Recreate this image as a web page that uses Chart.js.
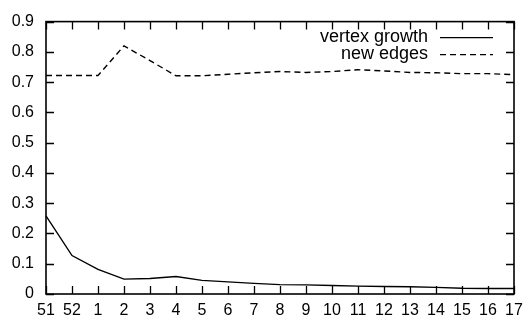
<!DOCTYPE html>
<html>
<head>
<meta charset="utf-8">
<script src="https://cdn.jsdelivr.net/npm/chart.js@4/dist/chart.umd.min.js"></script>
<style>
  html, body { margin: 0; padding: 0; background: #fff; }
  #wrap { width: 525px; height: 322px; }
</style>
</head>
<body>
<div id="wrap"><canvas id="c" width="525" height="322"></canvas></div>
<script>
// Week numbers along the x axis
const weeks = ['51', '52', '1', '2', '3', '4', '5', '6', '7', '8', '9', '10', '11', '12', '13', '14', '15', '16', '17'];

// Share of growth per week
const vertexGrowth = [0.258, 0.127, 0.081, 0.049, 0.051, 0.058, 0.045, 0.040, 0.035, 0.031, 0.030, 0.028, 0.026, 0.025, 0.024, 0.022, 0.019, 0.018, 0.018];
const newEdges = [0.722, 0.722, 0.722, 0.820, 0.771, 0.721, 0.721, 0.726, 0.731, 0.735, 0.732, 0.735, 0.741, 0.737, 0.732, 0.731, 0.728, 0.728, 0.725];

// Y axis tick values
const yTicks = [0, 0.1, 0.2, 0.3, 0.4, 0.5, 0.6, 0.7, 0.8, 0.9];

const FONT = 'Liberation Sans, Arial, Helvetica, sans-serif';

// Frame with inward tick marks on all four sides, plus every week label under its tick
const framePlugin = {
  id: 'frame',
  afterDatasetsDraw(chart) {
    const { ctx, chartArea: a, scales } = chart;
    const len = 8;
    ctx.save();
    ctx.strokeStyle = '#000';
    ctx.lineWidth = 1.3;
    ctx.beginPath();
    yTicks.forEach(v => {
      const y = Math.round(scales.y.getPixelForValue(v)) + 0.5;
      ctx.moveTo(a.left, y); ctx.lineTo(a.left + len, y);
      ctx.moveTo(a.right, y); ctx.lineTo(a.right - len, y);
    });
    weeks.forEach((w, i) => {
      const x = Math.round(scales.x.getPixelForValue(i)) + 0.5;
      ctx.moveTo(x, a.bottom); ctx.lineTo(x, a.bottom - len);
      ctx.moveTo(x, a.top); ctx.lineTo(x, a.top + len);
    });
    ctx.stroke();
    ctx.lineWidth = 1.6;
    ctx.strokeRect(a.left, a.top, a.right - a.left, a.bottom - a.top);

    ctx.font = '16px ' + FONT;
    ctx.fillStyle = '#000';
    ctx.textAlign = 'center';
    ctx.textBaseline = 'middle';
    weeks.forEach((w, i) => {
      ctx.fillText(w, scales.x.getPixelForValue(i), a.bottom + 17);
    });
    ctx.restore();
  }
};

// Key in the upper right corner, text right-aligned before the line sample
const keyPlugin = {
  id: 'key',
  afterDatasetsDraw(chart) {
    const { ctx, chartArea: a } = chart;
    const textRight = a.right - 86;
    const sx0 = a.right - 74, sx1 = a.right - 21;
    ctx.save();
    ctx.font = '18px ' + FONT;
    ctx.textAlign = 'right';
    ctx.textBaseline = 'middle';
    ctx.fillStyle = '#000';
    chart.data.datasets.forEach((ds, i) => {
      const y = a.top + 15 + i * 17;
      ctx.fillText(ds.label, textRight, y);
      ctx.beginPath();
      ctx.strokeStyle = '#000';
      ctx.lineWidth = ds.borderWidth;
      ctx.setLineDash(ds.borderDash || []);
      ctx.moveTo(sx0, y + 1);
      ctx.lineTo(sx1, y + 1);
      ctx.stroke();
    });
    ctx.restore();
  }
};

new Chart(document.getElementById('c'), {
  type: 'line',
  data: {
    labels: weeks,
    datasets: [
      {
        label: 'vertex growth',
        data: vertexGrowth,
        borderColor: '#000',
        borderWidth: 1.4,
        pointRadius: 0,
        tension: 0,
        fill: false
      },
      {
        label: 'new edges',
        data: newEdges,
        borderColor: '#000',
        borderWidth: 1.4,
        borderDash: [6, 4],
        pointRadius: 0,
        tension: 0,
        fill: false
      }
    ]
  },
  options: {
    responsive: false,
    animation: false,
    devicePixelRatio: 1,
    layout: { padding: { top: 19, right: 11, left: 0, bottom: 0 } },
    plugins: { legend: { display: false }, tooltip: { enabled: false } },
    scales: {
      x: {
        type: 'category',
        offset: false,
        grid: { display: false, drawTicks: false },
        border: { display: false },
        ticks: { display: false },
        afterFit(s) { s.height = 28; }
      },
      y: {
        min: 0,
        max: 0.9,
        grid: { display: false, drawTicks: false },
        border: { display: false },
        afterBuildTicks(s) { s.ticks = yTicks.map(v => ({ value: v })); },
        ticks: {
          color: '#000',
          font: { family: FONT, size: 16 },
          padding: 12,
          callback: v => (v === 0 ? '0' : v.toFixed(1))
        },
        afterFit(s) { s.width = 46; }
      }
    }
  },
  plugins: [framePlugin, keyPlugin]
});
</script>
</body>
</html>
